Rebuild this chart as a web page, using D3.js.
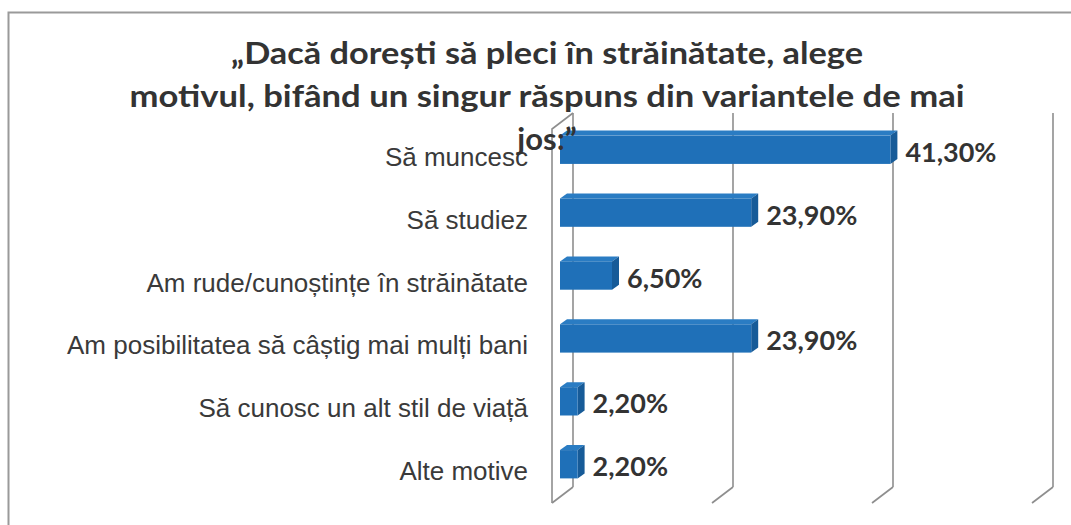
<!DOCTYPE html>
<html>
<head>
<meta charset="utf-8">
<script src="https://cdn.jsdelivr.net/npm/d3@7"></script>
<style>
  body { margin: 0; background: #fff; }
  svg { display: block; }
</style>
</head>
<body>
<svg id="chart"></svg>
<script>
// chart data
var categories = [
  "Să muncesc",
  "Să studiez",
  "Am rude/cunoștințe în străinătate",
  "Am posibilitatea să câștig mai mulți bani",
  "Să cunosc un alt stil de viață",
  "Alte motive"
];
var values = [41.3, 23.9, 6.5, 23.9, 2.2, 2.2];
var valueLabels = ["41,30%", "23,90%", "6,50%", "23,90%", "2,20%", "2,20%"];
var gridTicks = [0, 20, 40, 60];
var titleLines = [
  "„Dacă dorești să pleci în străinătate, alege",
  "motivul, bifând un singur răspuns din variantele de mai",
  "jos:”"
];

var width = 1071, height = 525;

var svg = d3.select("#chart")
  .attr("width", width)
  .attr("height", height);

// outer frame (cut off at right and bottom like the scan)
svg.append("rect")
  .attr("x", 8.5).attr("y", 12.5)
  .attr("width", 1100).attr("height", 600)
  .attr("fill", "none")
  .attr("stroke", "#9a9a9a")
  .attr("stroke-width", 2);

// scales: x for the bar front faces, y bands for rows
var x = d3.scaleLinear().domain([0, 60]).range([560, 1040]);
var y = d3.scaleBand().domain(categories)
  .range([118, 496])
  .paddingInner(0.55)
  .paddingOuter(0.28);

// 3d offsets
var floorFrontY = 503, floorBackY = 487, wallTop = 113;
var backDx = 13, frontDx = -8;     // floor depth relative to bar front
var barDx = 7, barDy = 5;          // bar depth

var grid = svg.append("g").attr("stroke", "#8e8e8e").attr("stroke-width", 1.6).attr("fill", "none");

// back wall gridlines
grid.selectAll("line.back")
  .data(gridTicks)
  .enter()
  .append("line")
  .attr("class", "back")
  .attr("x1", function (d) { return x(d) + backDx; })
  .attr("x2", function (d) { return x(d) + backDx; })
  .attr("y1", wallTop)
  .attr("y2", floorBackY);

// floor slants
grid.selectAll("line.floor")
  .data(gridTicks)
  .enter()
  .append("line")
  .attr("class", "floor")
  .attr("x1", function (d) { return x(d) + frontDx; })
  .attr("y1", floorFrontY)
  .attr("x2", function (d) { return x(d) + backDx; })
  .attr("y2", floorBackY);

// left side wall
grid.append("path")
  .attr("d", "M" + (x(0) + frontDx) + "," + floorFrontY +
    "V" + (wallTop + 16) +
    "L" + (x(0) + backDx) + "," + wallTop);

// bars
var bars = svg.selectAll("g.bar")
  .data(values)
  .enter()
  .append("g")
  .attr("class", "bar");

bars.append("path")   // top face
  .attr("fill", "#2a7cc3")
  .attr("d", function (d, i) {
    var x0 = x(0), x1 = x(d), y0 = y(categories[i]);
    return "M" + x0 + "," + y0 + "L" + (x0 + barDx) + "," + (y0 - barDy) +
      "L" + (x1 + barDx) + "," + (y0 - barDy) + "L" + x1 + "," + y0 + "Z";
  });

bars.append("path")   // side face
  .attr("fill", "#175b98")
  .attr("d", function (d, i) {
    var x1 = x(d), y0 = y(categories[i]), y1 = y0 + y.bandwidth();
    return "M" + x1 + "," + y0 + "L" + (x1 + barDx) + "," + (y0 - barDy) +
      "L" + (x1 + barDx) + "," + (y1 - barDy) + "L" + x1 + "," + y1 + "Z";
  });

bars.append("rect")   // front face
  .attr("fill", "#1f70b8")
  .attr("x", x(0))
  .attr("y", function (d, i) { return y(categories[i]); })
  .attr("width", function (d) { return x(d) - x(0); })
  .attr("height", y.bandwidth());

// value labels
svg.selectAll("text.value")
  .data(values)
  .enter()
  .append("text")
  .attr("class", "value")
  .attr("x", function (d) { return x(d) + barDx + 8; })
  .attr("y", function (d, i) { return y(categories[i]) + y.bandwidth() / 2 + 12; })
  .style("font-family", "Lato, 'Open Sans', sans-serif")
  .style("font-weight", "bold")
  .style("font-size", "27px")
  .attr("fill", "#333")
  .text(function (d, i) { return valueLabels[i]; });

// category labels
svg.selectAll("text.cat")
  .data(categories)
  .enter()
  .append("text")
  .attr("class", "cat")
  .attr("x", 528)
  .attr("y", function (d) { return y(d) + y.bandwidth() / 2 + 16; })
  .attr("text-anchor", "end")
  .style("font-family", "'Liberation Sans', Arial, sans-serif")
  .style("font-size", "26px")
  .attr("fill", "#3a3a3a")
  .text(function (d) { return d; });

// title, drawn last so it sits over the first bar
var titleWidths = [632, 835, null];
svg.selectAll("text.title")
  .data(titleLines)
  .enter()
  .append("text")
  .attr("class", "title")
  .attr("x", 547)
  .attr("y", function (d, i) { return 64 + i * 43; })
  .attr("text-anchor", "middle")
  .style("font-family", "Lato, 'Open Sans', sans-serif")
  .style("font-weight", "bold")
  .style("font-size", "31px")
  .attr("fill", "#333")
  .each(function (d, i) {
    if (titleWidths[i]) {
      d3.select(this).attr("textLength", titleWidths[i]).attr("lengthAdjust", "spacingAndGlyphs");
    }
  })
  .text(function (d) { return d; });
</script>
</body>
</html>
